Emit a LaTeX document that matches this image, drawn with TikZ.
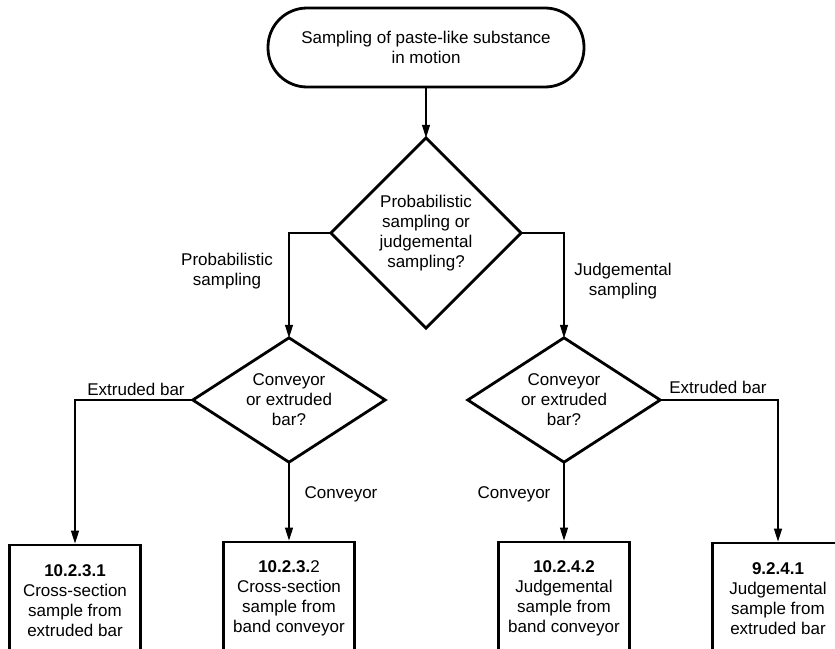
\documentclass[tikz,border=0pt]{standalone}
\usepackage{fontspec}
\setmainfont{Liberation Sans}
\usetikzlibrary{arrows.meta}
\begin{document}
\begin{tikzpicture}[x=1pt,y=-1pt,
  every node/.style={font=\fontsize{17}{20}\selectfont, align=center, inner sep=0pt},
  terminal/.style={draw, line width=2.8pt, rounded corners=39pt,
    minimum width=316pt, minimum height=79pt},
  decision/.style={rectangle, draw=none},
  outline/.style={line width=2.8pt, line join=miter},
  result/.style={draw, line width=2.8pt, minimum width=131pt, minimum height=112pt},
  conn/.style={line width=1.3pt, -{Triangle[length=13pt,width=8pt]}},
  lbl/.style={}]
\useasboundingbox (0,0) rectangle (835,648);
\clip (0,0) rectangle (835,648);

% start terminal
\node[terminal] (start) at (426,47.5) {Sampling of paste-like substance\\in motion};

% decisions (bounding rectangles; diamonds drawn through their side midpoints)
\node[decision, minimum width=190pt, minimum height=190pt] (main) at (426,233)
  {Probabilistic\\sampling or\\judgemental\\sampling?};
\node[decision, minimum width=192pt, minimum height=124pt] (dl) at (289,400)
  {Conveyor\\or extruded\\bar?};
\node[decision, minimum width=192pt, minimum height=124pt] (dr) at (564,400)
  {Conveyor\\or extruded\\bar?};
\foreach \d in {main,dl,dr}
  \draw[outline] (\d.north) -- (\d.east) -- (\d.south) -- (\d.west) -- cycle;

% results
\node[result] (b1) at (75,601) {{\bfseries 10.2.3.1}\\Cross-section\\sample from\\extruded bar};
\node[result] (b2) at (289,598) {{\bfseries 10.2.3.}2\\Cross-section\\sample from\\band conveyor};
\node[result] (b3) at (564,598) {{\bfseries 10.2.4.2}\\Judgemental\\sample from\\band conveyor};
\node[result] (b4) at (778,599) {{\bfseries 9.2.4.1}\\Judgemental\\sample from\\extruded bar};

% connectors
\draw[conn] (start.south) -- (main.north);
\draw[conn] (main.west) -| (dl.north);
\draw[conn] (main.east) -| (dr.north);
\draw[conn] (dl.west) -| (b1.north);
\draw[conn] (dl.south) -- (b2.north);
\draw[conn] (dr.south) -- (b3.north);
\draw[conn] (dr.east) -| (b4.north);

% branch labels
\node[lbl] (lprob) at (227,271) {Probabilistic\\sampling};
\node[lbl] (ljud) at (623,281) {Judgemental\\sampling};
\node[lbl] (lext1) at (136,389) {Extruded bar};
\node[lbl] (lext2) at (718,387) {Extruded bar};
\node[lbl] (lconv1) at (341,494) {Conveyor};
\node[lbl] (lconv2) at (514,494) {Conveyor};
\end{tikzpicture}
\end{document}
